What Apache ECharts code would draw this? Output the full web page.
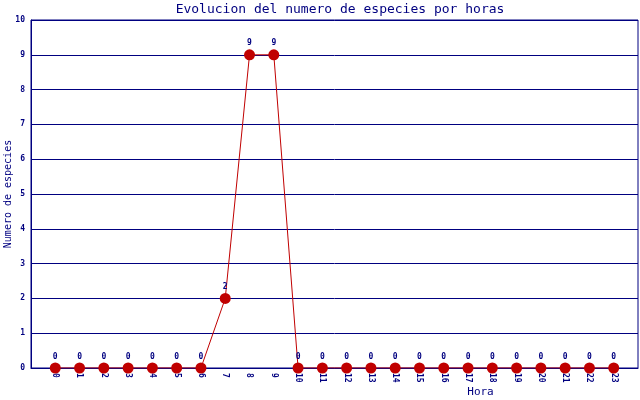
<!DOCTYPE html>
<html>
<head>
<meta charset="utf-8">
<script src="https://cdn.jsdelivr.net/npm/echarts@6/dist/echarts.min.js"></script>
<style>
  html, body { margin: 0; padding: 0; background: #fff; }
  #chart { width: 640px; height: 400px; }
</style>
</head>
<body>
<div id="chart"></div>
<script>
// horas del dia y numero de especies
const horas = [0, 1, 2, 3, 4, 5, 6, 7, 8, 9, 10, 11, 12, 13, 14, 15, 16, 17, 18, 19, 20, 21, 22, 23];
const especies = [0, 0, 0, 0, 0, 0, 0, 2, 9, 9, 0, 0, 0, 0, 0, 0, 0, 0, 0, 0, 0, 0, 0, 0];

const navy = "#000080";
const rojo = "#c00000";
const mono = "DejaVu Sans Mono";

var chart = echarts.init(document.getElementById("chart"));

var puntos = [];
for (var i = 0; i < horas.length; i++) {
  puntos.push([horas[i], especies[i]]);
}

var option = {
  animation: false,
  title: {
    text: "Evolucion del numero de especies por horas",
    left: 335,
    top: -2,
    textAlign: "center",
    textStyle: { color: navy, fontFamily: mono, fontSize: 13, fontWeight: "normal" },
  },
  grid: {
    left: 31,
    right: 2,
    top: 20,
    bottom: 32,
    outerBoundsMode: "none",
    containLabel: false,
    show: true,
    borderColor: navy,
    borderWidth: 1,
  },
  xAxis: {
    type: "value",
    min: -1,
    max: 24,
    interval: 1,
    name: "Hora",
    nameLocation: "middle",
    nameGap: 19,
    nameMoveOverlap: false,
    nameTextStyle: { color: navy, fontFamily: mono, fontSize: 11, padding: [0, 0, 0, 292] },
    axisLine: { onZero: false, lineStyle: { color: navy, width: 1 } },
    axisTick: { show: false },
    splitLine: { show: false },
    axisLabel: {
      rotate: -90,
      color: navy,
      fontFamily: mono,
      fontSize: 8,
      fontWeight: "bold",
      margin: 5,
      formatter: function (v) {
        return v < 0 || v > 23 ? "" : String(v);
      },
    },
  },
  yAxis: {
    type: "value",
    min: 0,
    max: 10,
    interval: 1,
    name: "Numero de especies",
    nameLocation: "middle",
    nameGap: 18,
    nameMoveOverlap: false,
    nameTextStyle: { color: navy, fontFamily: mono, fontSize: 10 },
    axisLine: { show: true, onZero: false, lineStyle: { color: navy, width: 1 } },
    axisTick: { show: false },
    splitLine: { show: true, lineStyle: { color: navy, width: 1 } },
    axisLabel: { color: navy, fontFamily: mono, fontSize: 8, fontWeight: "bold", margin: 6 },
  },
  series: [
    {
      type: "line",
      data: puntos,
      symbol: "circle",
      symbolSize: 11,
      lineStyle: { color: rojo, width: 1 },
      itemStyle: { color: rojo },
      label: {
        show: true,
        position: "top",
        distance: 2,
        color: navy,
        fontFamily: mono,
        fontSize: 8,
        fontWeight: "bold",
      },
    },
  ],
};

chart.setOption(option);
</script>
</body>
</html>
